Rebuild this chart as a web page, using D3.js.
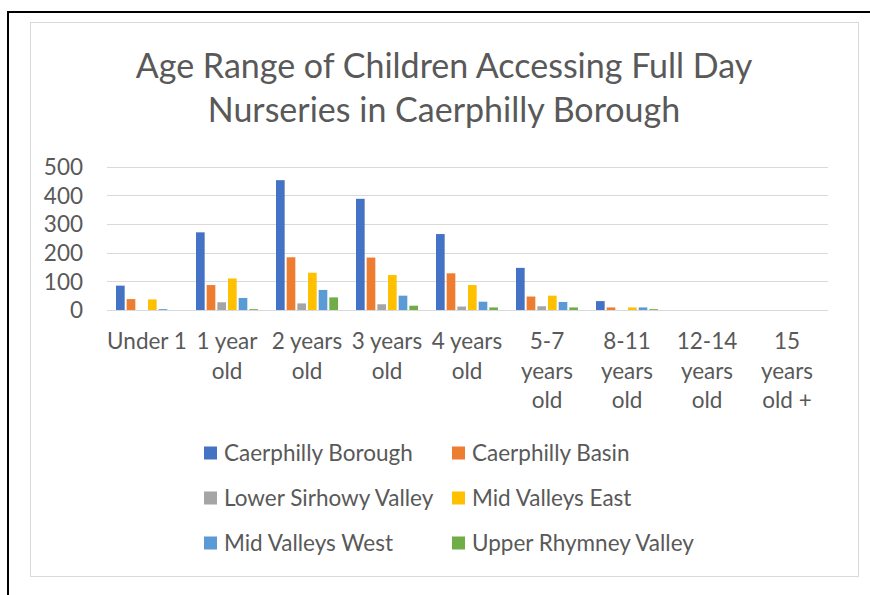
<!DOCTYPE html>
<html>
<head>
<meta charset="utf-8">
<script src="https://cdn.jsdelivr.net/npm/d3@7"></script>
<style>
  html, body { margin: 0; padding: 0; background: #fff; }
  svg { display: block; }
  text { font-family: Lato, "Open Sans", sans-serif; fill: #595959; }
</style>
</head>
<body>
<svg id="chart" width="870" height="595"></svg>
<script>
// Age groups along the x axis
const categories = ["Under 1", "1 year old", "2 years old", "3 years old", "4 years old",
  "5-7 years old", "8-11 years old", "12-14 years old", "15 years old +"];

// Number of children per area, one array per series
const caerphillyBorough   = [85, 271, 453, 388, 265, 147, 31, 0, 0];
const caerphillyBasin     = [38, 87, 184, 183, 128, 47, 9, 0, 0];
const lowerSirhowyValley  = [0, 27, 23, 20, 12, 13, 0, 0, 0];
const midValleysEast      = [37, 110, 130, 122, 87, 50, 9, 0, 0];
const midValleysWest      = [3, 42, 70, 50, 29, 28, 9, 0, 0];
const upperRhymneyValley  = [0, 3, 44, 15, 9, 9, 3, 0, 0];

const seriesNames = ["Caerphilly Borough", "Caerphilly Basin", "Lower Sirhowy Valley",
  "Mid Valleys East", "Mid Valleys West", "Upper Rhymney Valley"];
const seriesValues = [caerphillyBorough, caerphillyBasin, lowerSirhowyValley,
  midValleysEast, midValleysWest, upperRhymneyValley];
const seriesColors = ["#4472C4", "#ED7D31", "#A5A5A5", "#FFC000", "#5B9BD5", "#70AD47"];

const yTicks = [0, 100, 200, 300, 400, 500];
const titleLines = ["Age Range of Children Accessing Full Day", "Nurseries in Caerphilly Borough"];

const svg = d3.select("#chart");

// page frame and chart area
svg.append("line").attr("x1", 7).attr("x2", 870).attr("y1", 12).attr("y2", 12)
  .attr("stroke", "#000").attr("stroke-width", 2);
svg.append("line").attr("x1", 8).attr("x2", 8).attr("y1", 11).attr("y2", 595)
  .attr("stroke", "#000").attr("stroke-width", 2);
svg.append("rect").attr("x", 30.5).attr("y", 22.5).attr("width", 828).attr("height", 554)
  .attr("fill", "#fff").attr("stroke", "#d9d9d9").attr("stroke-width", 1);

// title
svg.append("text")
  .attr("text-anchor", "middle")
  .style("font-size", "34px")
  .selectAll("tspan").data(titleLines).join("tspan")
  .attr("x", 444).attr("y", (d, i) => 78 + i * 44)
  .text(d => d);

// scales
const x0 = d3.scaleBand().domain(categories).range([107, 827]).paddingInner(0).paddingOuter(0);
const x1 = d3.scaleBand().domain(seriesNames)
  .range([0, x0.bandwidth()]).paddingOuter(0.75).paddingInner(0);
const y = d3.scaleLinear().domain([0, 500]).range([310, 166.7]);

// gridlines
svg.append("g").selectAll("line").data(yTicks).join("line")
  .attr("x1", 107).attr("x2", 828)
  .attr("y1", d => Math.round(y(d)) + 0.5).attr("y2", d => Math.round(y(d)) + 0.5)
  .attr("stroke", "#d9d9d9").attr("stroke-width", 1);

// y axis labels
const yAxis = d3.axisLeft(y).tickValues(yTicks).tickSize(0).tickPadding(0);
const yg = svg.append("g").attr("transform", "translate(83,0)").call(yAxis);
yg.select(".domain").remove();
yg.selectAll("text").style("font-size", "22.5px").attr("fill", "#595959")
  .attr("font-family", null).attr("dy", "0.35em");

// bars
const groups = svg.append("g").selectAll("g").data(categories).join("g")
  .attr("transform", d => `translate(${x0(d)},0)`);
groups.selectAll("rect")
  .data((c, ci) => seriesNames.map((s, si) => ({ s, si, v: seriesValues[si][ci] })))
  .join("rect")
  .filter(d => d.v > 0)
  .attr("x", d => x1(d.s) + 1)
  .attr("width", x1.bandwidth() - 2)
  .attr("y", d => y(d.v))
  .attr("height", d => y(0) - y(d.v))
  .attr("fill", d => seriesColors[d.si]);

// category labels, wrapped to the band width
const xAxis = d3.axisBottom(x0).tickSize(0).tickPadding(0);
const xg = svg.append("g").attr("transform", "translate(0,0)").call(xAxis);
xg.select(".domain").remove();
xg.selectAll("text").each(function (d) {
  const t = d3.select(this);
  t.text(null).attr("y", 0).attr("dy", null)
    .style("font-size", "22.5px").attr("fill", "#595959").attr("font-family", null);
  const words = d.split(" ");
  const lines = [];
  let line = [];
  const probe = t.append("tspan");
  words.forEach(w => {
    const trial = line.concat([w]).join(" ");
    probe.text(trial);
    if (line.length && probe.node().getComputedTextLength() > 80) {
      lines.push(line.join(" "));
      line = [w];
    } else {
      line.push(w);
    }
  });
  lines.push(line.join(" "));
  probe.remove();
  lines.forEach((l, i) => {
    t.append("tspan").attr("x", 0).attr("y", 349 + i * 29.5).text(l);
  });
});

// legend
const legendItems = seriesNames.map((s, i) => ({ s, i }));
const legend = svg.append("g").selectAll("g").data(legendItems).join("g")
  .attr("transform", d => `translate(${d.i % 2 === 0 ? 204 : 452},${453 + Math.floor(d.i / 2) * 45})`);
legend.append("rect").attr("x", 0).attr("y", -6.5).attr("width", 13).attr("height", 13)
  .attr("fill", d => seriesColors[d.i]);
legend.append("text").attr("x", 20).attr("y", 0).attr("dy", "0.36em")
  .style("font-size", "22.5px").text(d => d.s);
</script>
</body>
</html>
